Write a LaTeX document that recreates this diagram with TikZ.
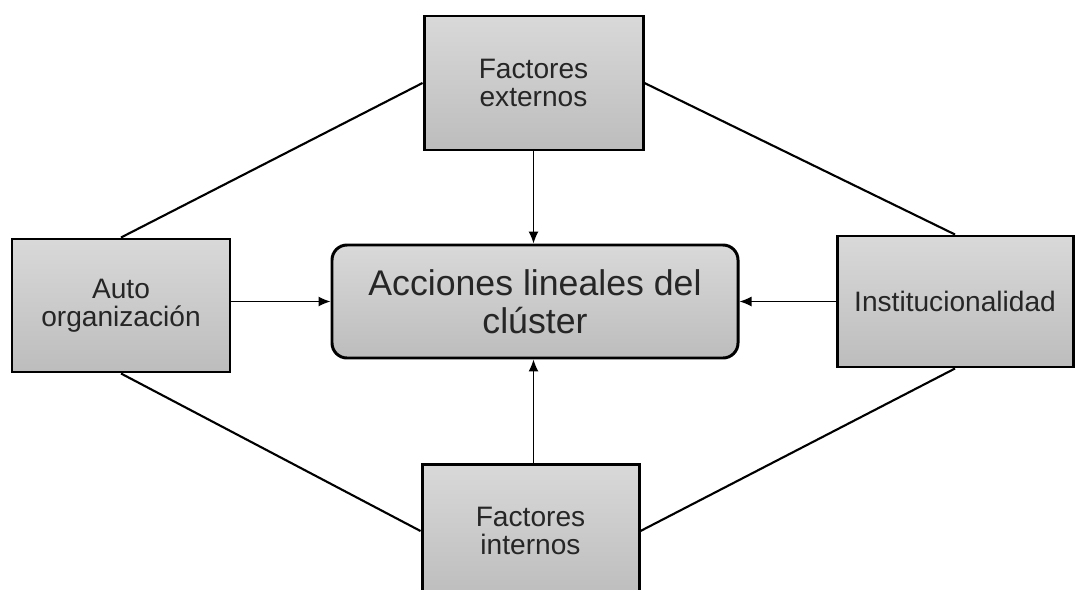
\documentclass[tikz,border=0pt]{standalone}
\usepackage{fontspec}
\setmainfont{Liberation Sans}
\usetikzlibrary{arrows.meta}

\tikzset{
  factor/.style={draw, line width=1.7pt, top color=gray!30, bottom color=gray!52,
    text=black!85, align=center, font=\fontsize{16}{16}\selectfont, inner sep=0pt},
  lazo/.style={line width=1.2pt},
  flecha/.style={line width=0.7pt, -{Latex[length=2.4mm,width=2mm]}}
}

\begin{document}
\begin{tikzpicture}
  \clip (0,0) rectangle (21.6,-11.78);
  \fill[white] (0,0) rectangle (21.6,-11.78);
  \node[factor, minimum width=4.38cm, minimum height=2.68cm] (ext) at (10.67,-1.66) {Factores\\externos};
  \node[factor, minimum width=4.36cm, minimum height=2.66cm] (auto) at (2.42,-6.11) {Auto\\organización};
  \node[factor, minimum width=4.72cm, minimum height=2.62cm] (inst) at (19.1,-6.03) {Institucionalidad};
  \node[factor, minimum width=4.34cm, minimum height=2.68cm] (int) at (10.61,-10.62) {Factores\\internos};
  \node[factor, rounded corners=0.3cm, minimum width=8.12cm, minimum height=2.26cm,
    font=\fontsize{20.3}{21.5}\selectfont] (acc) at (10.70,-6.03) {Acciones lineales del\\clúster};
  % lineas entre factores
  \draw[lazo] (ext.west) -- (auto.north);
  \draw[lazo] (ext.east) -- (inst.north);
  \draw[lazo] (auto.south) -- (int.west);
  \draw[lazo] (inst.south) -- (int.east);
  % flechas hacia el centro
  \draw[flecha] (ext.south) -- (ext.south |- acc.north);
  \draw[flecha] (int.north -| ext.south) -- (ext.south |- acc.south);
  \draw[flecha] (auto.east |- acc.west) -- (acc.west);
  \draw[flecha] (inst.west |- acc.east) -- (acc.east);
\end{tikzpicture}
\end{document}
